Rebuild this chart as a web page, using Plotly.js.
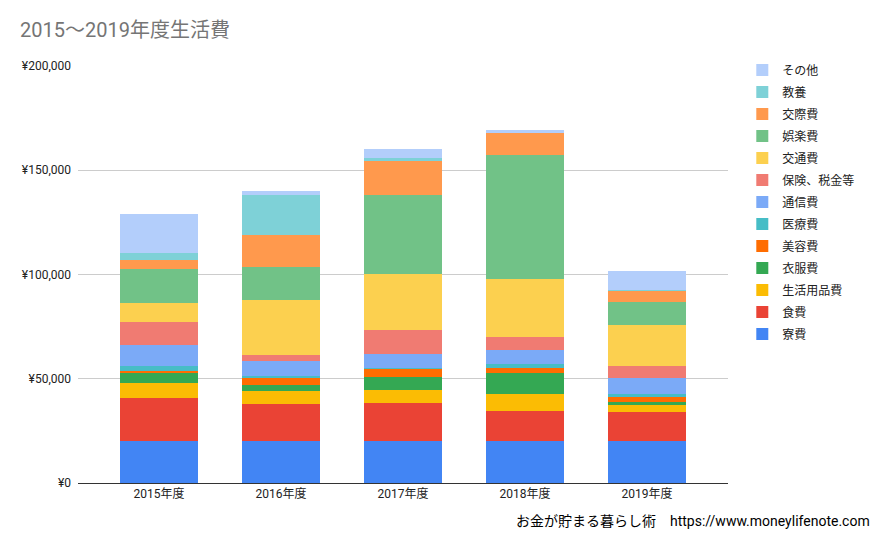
<!DOCTYPE html>
<html>
<head>
<meta charset="utf-8">
<script src="https://cdn.plot.ly/plotly-3.0.1.min.js"></script>
<style>
  html, body { margin: 0; padding: 0; background: #fff; }
  #chart { width: 873px; height: 539px; }
</style>
</head>
<body>
<div id="chart"></div>
<script>
const years = ['2015年度', '2016年度', '2017年度', '2018年度', '2019年度'];

// bottom to top, values in yen
const ryohi      = [20000, 20000, 20000, 20000, 20000];
const shokuhi    = [20900, 18000, 18500, 14700, 14200];
const seikatsu   = [7200, 6300, 6200, 8100, 3400];
const ifuku      = [4800, 2500, 6300, 10100, 1400];
const biyou      = [1000, 3700, 3500, 2400, 2100];
const iryou      = [2000, 1000, 800, 1900, 1700];
const tsushin    = [10100, 7200, 6700, 6700, 7700];
const hoken      = [11400, 2800, 11500, 6300, 5800];
const koutsu     = [9100, 26400, 26900, 27800, 19600];
const goraku     = [16300, 15800, 37900, 59100, 11100];
const kousai     = [4300, 15400, 16300, 10900, 5200];
const kyouyou    = [3400, 19200, 1400, 0, 500];
const sonota     = [18700, 1900, 4300, 1400, 9100];

const seriesNames = ['寮費', '食費', '生活用品費', '衣服費', '美容費', '医療費', '通信費',
  '保険、税金等', '交通費', '娯楽費', '交際費', '教養', 'その他'];
const seriesValues = [ryohi, shokuhi, seikatsu, ifuku, biyou, iryou, tsushin,
  hoken, koutsu, goraku, kousai, kyouyou, sonota];
const seriesColors = ['#4285F4', '#EA4335', '#FBBC04', '#34A853', '#FF6D01', '#46BDC6', '#7BAAF7',
  '#F07B72', '#FCD04F', '#71C287', '#FF994D', '#7ED1D7', '#B3CEFB'];

// legend lists the top of the stack first
const traces = seriesNames.map((name, i) => ({
  type: 'bar',
  name: name,
  x: years,
  y: seriesValues[i],
  legendgroup: 'g' + i,
  legendrank: 100 - i,
  marker: { color: seriesColors[i], line: { width: 0 } },
  hoverinfo: 'name+y'
}));

const font = "Roboto, 'Noto Sans CJK JP', sans-serif";

// plot area in pixels
const L = 78, R = 145, T = 66, B = 56;
const plotW = 873 - L - R, plotH = 539 - T - B;

const layout = {
  width: 873,
  height: 539,
  margin: { l: L, r: R, t: T, b: B, autoexpand: false },
  paper_bgcolor: '#fff',
  plot_bgcolor: '#fff',
  barmode: 'stack',
  bargap: 0.36,
  font: { family: font, size: 12, color: '#222' },
  title: {
    text: '2015〜2019年度生活費',
    font: { family: font, size: 20, color: '#757575' },
    x: 0.023, xanchor: 'left',
    y: 0.945, yanchor: 'middle'
  },
  xaxis: {
    type: 'category',
    range: [-0.665, 4.665],
    showline: true,
    linecolor: '#333',
    linewidth: 1,
    ticks: '',
    showgrid: false,
    tickfont: { family: font, size: 12, color: '#222' }
  },
  yaxis: {
    range: [0, 200000],
    dtick: 50000,
    tickprefix: '¥',
    tickformat: ',d',
    showgrid: true,
    gridcolor: '#cccccc',
    zeroline: false,
    showline: false,
    ticks: '',
    ticklabelstandoff: 6,
    tickfont: { family: font, size: 12, color: '#222' }
  },
  legend: {
    x: 1.022, xanchor: 'left',
    y: 1.025, yanchor: 'top',
    traceorder: 'grouped',
    tracegroupgap: 3,
    maxheight: 480,
    font: { family: font, size: 12, color: '#222' },
    itemwidth: 30
  },
  annotations: [{
    text: 'お金が貯まる暮らし術　https://www.moneylifenote.com',
    xref: 'paper', yref: 'paper',
    x: (872 - L) / plotW, xanchor: 'right',
    y: -(521 - 483) / plotH, yanchor: 'middle',
    showarrow: false,
    font: { family: font, size: 14, color: '#000' }
  }],
  showlegend: true
};

Plotly.newPlot('chart', traces, layout, { displayModeBar: false, staticPlot: true });
</script>
</body>
</html>
